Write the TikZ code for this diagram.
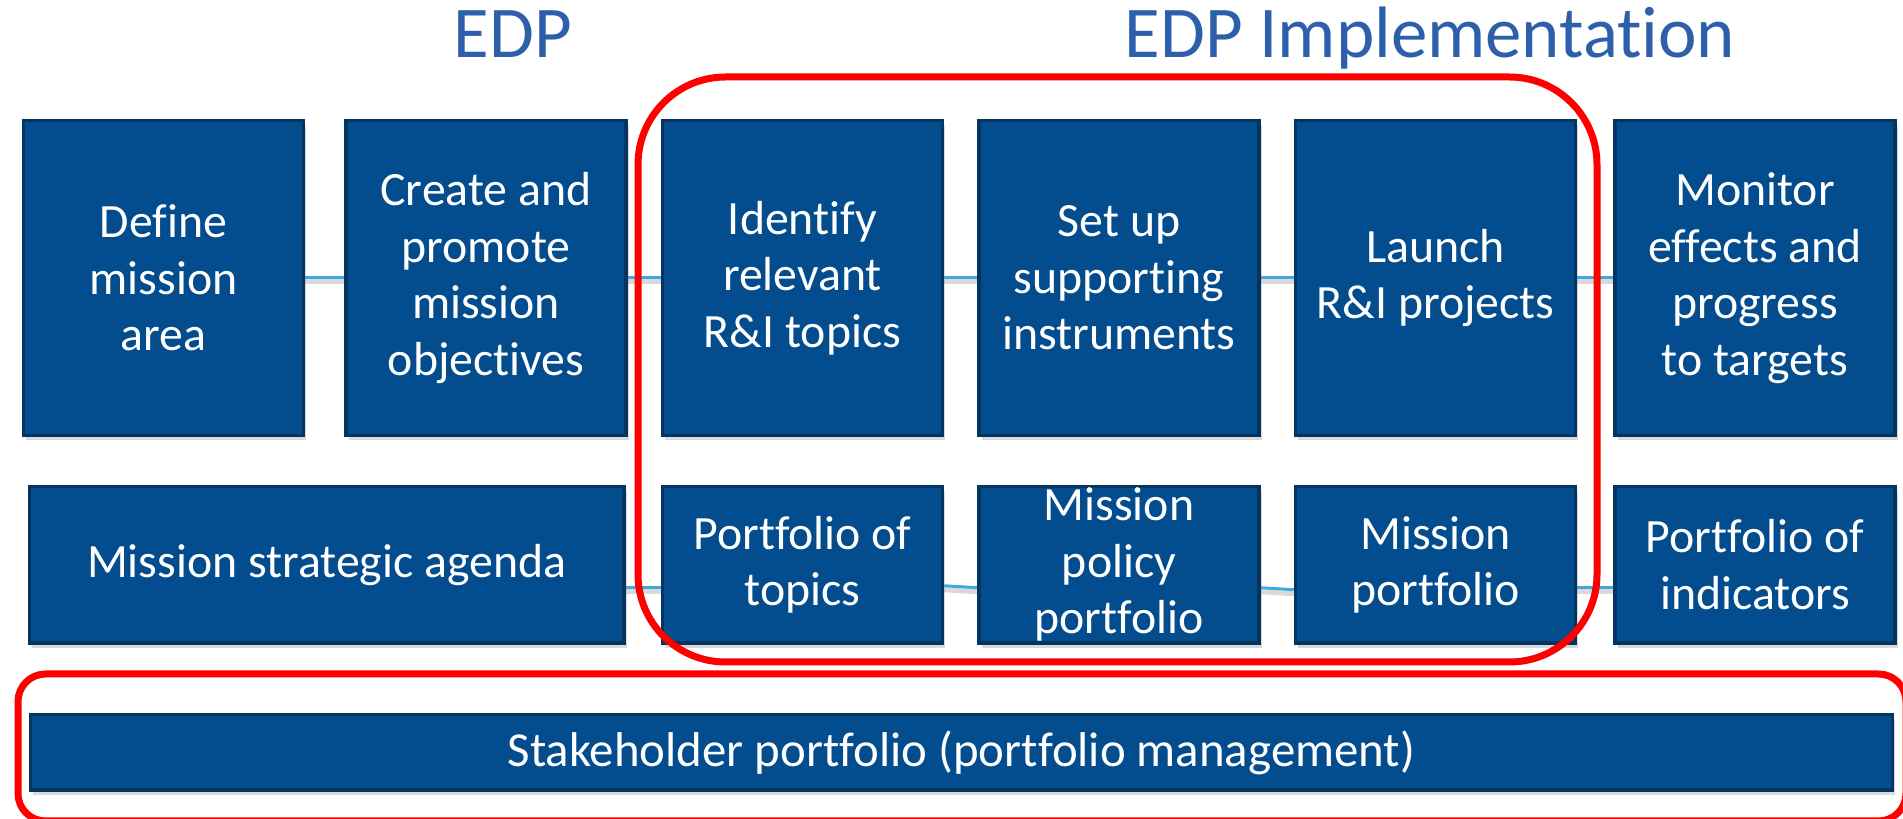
\documentclass[tikz,border=0pt]{standalone}
\usepackage{fontspec}
\setmainfont[Ligatures=NoCommon]{Carlito}
\usetikzlibrary{positioning, shadows, backgrounds}

\definecolor{boxblue}{RGB}{3,76,141}
\definecolor{boxline}{RGB}{4,52,96}
\definecolor{linkblue}{RGB}{60,170,225}
\definecolor{headblue}{RGB}{46,95,170}

\begin{document}
\begin{tikzpicture}[
  task/.style={rectangle, fill=boxblue, draw=boxline, line width=0.07cm, text=white, align=center, inner sep=0pt, minimum width=5.6cm, minimum height=6.3cm, font=\fontsize{27.2}{32.2}\selectfont, drop shadow={opacity=0.3, shadow xshift=0.05cm, shadow yshift=-0.1cm}},
  port/.style={task, minimum height=3.13cm},
  link/.style={draw=linkblue, line width=0.06cm, preaction={draw=black!15, line width=0.1cm, transform canvas={yshift=-0.08cm}}},
  frame/.style={draw=red, line width=0.14cm},
  head/.style={text=headblue, font=\fontsize{41.5}{48}\selectfont, anchor=base}
]
\useasboundingbox (0,0) rectangle (38.06,-16.38);

\node[head] (E1) at (10.26,-1.16) {EDP};
\node[head] (E2) at (28.6,-1.16) {EDP Implementation};

\node[task] (T1) at (3.27,-5.56) {Define\\mission\\area};
\node[task, right=0.78cm of T1] (T2) {Create and\\promote\\mission\\objectives};
\node[task, right=0.66cm of T2] (T3) {Identify\\relevant\\R\&I topics};
\node[task, right=0.66cm of T3] (T4) {Set up\\supporting\\instruments};
\node[task, right=0.66cm of T4] (T5) {Launch\\R\&I projects};
\node[task, right=0.72cm of T5] (T6) {Monitor\\effects and\\progress\\to targets};

\node[port, below=0.95cm of T3] (P2) {Portfolio of\\topics};
\node[port, below=0.95cm of T4] (P3) {Mission\\policy\\portfolio};
\node[port, below=0.95cm of T5] (P4) {Mission\\portfolio};
\node[port, below=0.95cm of T6] (P5) {Portfolio of\\indicators};
\node[port, minimum width=11.89cm, left=0.7cm of P2] (P1) {Mission strategic agenda};

\node[task, minimum width=37.23cm, minimum height=1.51cm, font=\fontsize{27.8}{32.2}\selectfont] (S) at (19.23,-15.05) {Stakeholder portfolio (portfolio management)};

\begin{scope}[on background layer]
\draw[link] (T1) -- (T2);
\draw[link] (T2) -- (T3);
\draw[link] (T3) -- (T4);
\draw[link] (T4) -- (T5);
\draw[link] (T5) -- (T6);
\draw[link] ([yshift=-0.46cm]P1.east) -- ([yshift=-0.46cm]P2.west);
\draw[link] ([yshift=-0.42cm]P2.east) -- ([yshift=-0.46cm]P3.west);
\draw[link] ([yshift=-0.46cm]P3.east) -- ([yshift=-0.5cm]P4.west);
\draw[link] ([yshift=-0.46cm]P4.east) -- ([yshift=-0.46cm]P5.west);
\end{scope}

\draw[frame, rounded corners=1.75cm] (12.76,-1.54) rectangle (31.94,-13.24);
\draw[frame, rounded corners=0.55cm] (0.36,-13.48) rectangle (38.12,-16.42);
\end{tikzpicture}
\end{document}
